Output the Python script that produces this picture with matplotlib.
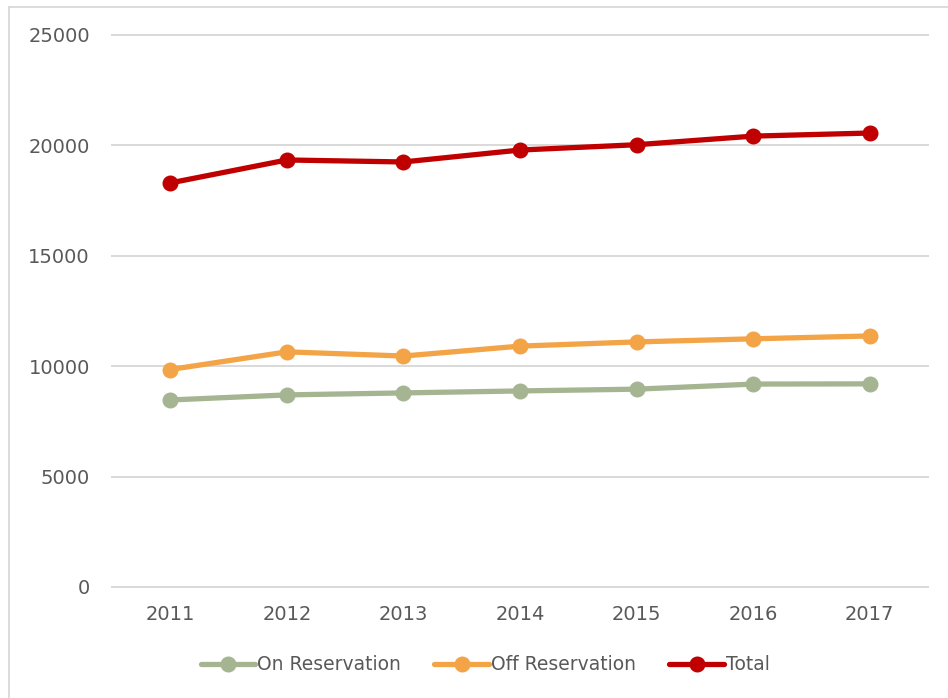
import matplotlib
matplotlib.use("Agg")
import matplotlib.pyplot as plt
from matplotlib.lines import Line2D

years = ["2011", "2012", "2013", "2014", "2015", "2016", "2017"]
on_reservation = [8470, 8700, 8790, 8880, 8960, 9190, 9200]
off_reservation = [9850, 10650, 10460, 10910, 11100, 11240, 11370]
total = [18300, 19340, 19250, 19790, 20030, 20420, 20560]
y_ticks = [0, 5000, 10000, 15000, 20000, 25000]

series = [
    ("On Reservation", on_reservation, "#A5B592"),
    ("Off Reservation", off_reservation, "#F3A447"),
    ("Total", total, "#C00000"),
]
text_color = "#595959"

fig = plt.figure(figsize=(9.48, 6.98), dpi=100)

# chart border: only the left and top edges show in the crop
bx, by = 8.5 / 948, 1 - 6.5 / 698
fig.add_artist(Line2D([bx, bx], [0, by], transform=fig.transFigure,
                      color="#D9D9D9", linewidth=1.3))
fig.add_artist(Line2D([bx, 1], [by, by], transform=fig.transFigure,
                      color="#D9D9D9", linewidth=1.3))

ax = fig.add_axes([112 / 948, 1 - 587 / 698, 816 / 948, 552 / 698])
x = list(range(len(years)))
for label, vals, color in series:
    ax.plot(x, vals, color=color, linewidth=3.8, marker="o", markersize=10.5,
            label=label, solid_capstyle="round", zorder=3)

ax.set_xlim(-0.5, len(years) - 0.5)
ax.set_ylim(0, 25000)
ax.set_yticks(y_ticks)
ax.set_yticklabels([str(v) for v in y_ticks], fontsize=14, color=text_color)
ax.set_xticks(x)
ax.set_xticklabels(years, fontsize=14, color=text_color)
ax.tick_params(axis="both", length=0)
ax.tick_params(axis="y", pad=16)
ax.tick_params(axis="x", pad=13)
ax.grid(axis="y", color="#D9D9D9", linewidth=1.4, zorder=0)
for gl in ax.get_ygridlines():
    gl.set_clip_on(False)
ax.set_axisbelow(True)
for s in ax.spines.values():
    s.set_visible(False)

leg = fig.legend(loc="center", bbox_to_anchor=(485 / 948, 1 - 665 / 698),
                 ncol=3, frameon=False, handlelength=2.9, handletextpad=0.1,
                 columnspacing=1.8, fontsize=13.5)
for t in leg.get_texts():
    t.set_color(text_color)

fig.savefig("out.png", dpi=100)
